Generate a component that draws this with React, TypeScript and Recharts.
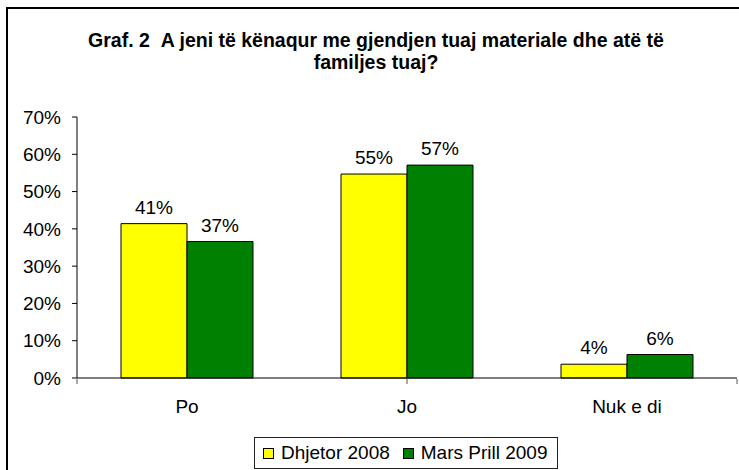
import { BarChart, Bar, XAxis, YAxis, Legend, LabelList } from 'recharts';

const categories = ['Po', 'Jo', 'Nuk e di'];
const dhjetor2008 = [41.4, 54.7, 3.7];
const marsPrill2009 = [36.6, 57.1, 6.3];
const yTicks = [0, 10, 20, 30, 40, 50, 60, 70];
const separatorTicks = [0, 1, 2, 3];

const seriesNames = ['Dhjetor 2008', 'Mars Prill 2009'];
const seriesColors = ['#FFFF00', '#008000'];

const data = categories.map((name, i) => ({
  name,
  d2008: dhjetor2008[i],
  m2009: marsPrill2009[i],
}));

const font = '"Liberation Sans", Arial, sans-serif';

function LegendBox() {
  return (
    <div
      style={{
        boxSizing: 'border-box',
        width: 304,
        height: 32,
        border: '1px solid #222',
        background: '#fff',
        display: 'flex',
        alignItems: 'center',
        paddingLeft: 8,
        fontFamily: font,
        fontSize: 19,
        color: '#000',
      }}
    >
      {seriesNames.map((n, i) => (
        <div key={n} style={{ display: 'flex', alignItems: 'center', marginRight: i === 0 ? 13 : 0 }}>
          <span
            style={{
              display: 'inline-block',
              boxSizing: 'border-box',
              width: 11,
              height: 11,
              background: seriesColors[i],
              border: '1px solid #000',
              marginRight: 7,
            }}
          />
          <span>{n}</span>
        </div>
      ))}
    </div>
  );
}

export default function App() {
  return (
    <div style={{ position: 'absolute', left: 0, top: 0, width: 739, height: 470, overflow: 'hidden', background: '#fff' }}>
      <div
        style={{
          position: 'absolute',
          left: 6,
          top: 7,
          width: 800,
          height: 520,
          border: '2px solid #000',
          boxSizing: 'border-box',
        }}
      />
      <div
        style={{
          position: 'absolute',
          left: 0,
          top: 29,
          width: 752,
          textAlign: 'center',
          fontFamily: font,
          fontWeight: 'bold',
          fontSize: 19.5,
          lineHeight: '22px',
          color: '#000',
        }}
      >
        Graf. 2&nbsp;&nbsp;A jeni të kënaqur me gjendjen tuaj materiale dhe atë të
        <br />
        familjes tuaj?
      </div>
      <div style={{ position: 'absolute', left: 0, top: 0 }}>
        <BarChart
          width={739}
          height={470}
          data={data}
          margin={{ top: 117, right: 2, bottom: 90, left: 7 }}
          barCategoryGap="20%"
          barGap={0}
        >
          <XAxis
            xAxisId="cat"
            dataKey="name"
            height={1}
            tickSize={0}
            tickMargin={22}
            axisLine={{ stroke: '#000', strokeWidth: 1 }}
            tick={{ fontSize: 19, fill: '#000', fontFamily: font }}
          />
          <XAxis
            xAxisId="sep"
            type="number"
            domain={[0, 3]}
            allowDataOverflow
            ticks={separatorTicks}
            interval={0}
            height={1}
            tickFormatter={() => ''}
            tick={{ fontSize: 1 }}
            axisLine={false}
            tickSize={5}
            tickLine={{ stroke: '#555', strokeWidth: 1 }}
          />
          <YAxis
            width={70}
            domain={[0, 70]}
            ticks={yTicks}
            tickFormatter={(v: number) => `${v}%`}
            tickSize={5}
            tickMargin={11}
            axisLine={{ stroke: '#000', strokeWidth: 1 }}
            tickLine={{ stroke: '#000', strokeWidth: 1 }}
            tick={{ fontSize: 19, fill: '#000', fontFamily: font }}
          />
          <Legend
            layout="horizontal"
            verticalAlign="middle"
            align="center"
            content={() => <LegendBox />}
            wrapperStyle={{ position: 'absolute', left: 254, top: 437, width: 304, height: 32 }}
          />
          <Bar
            xAxisId="cat"
            dataKey="d2008"
            name={seriesNames[0]}
            fill={seriesColors[0]}
            stroke="#000"
            strokeWidth={1}
            isAnimationActive={false}
          >
            <LabelList
              dataKey="d2008"
              position="top"
              offset={10}
              formatter={(v: number) => `${Math.round(v)}%`}
              style={{ fontSize: 19, fill: '#000', fontFamily: font }}
            />
          </Bar>
          <Bar
            xAxisId="cat"
            dataKey="m2009"
            name={seriesNames[1]}
            fill={seriesColors[1]}
            stroke="#000"
            strokeWidth={1}
            isAnimationActive={false}
          >
            <LabelList
              dataKey="m2009"
              position="top"
              offset={10}
              formatter={(v: number) => `${Math.round(v)}%`}
              style={{ fontSize: 19, fill: '#000', fontFamily: font }}
            />
          </Bar>
        </BarChart>
      </div>
    </div>
  );
}
